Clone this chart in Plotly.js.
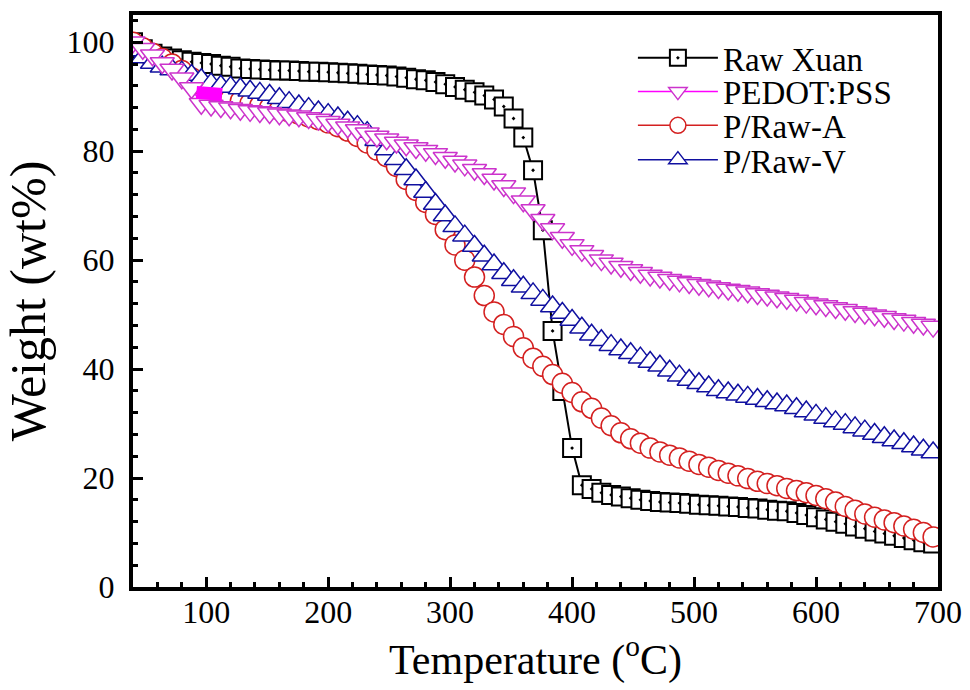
<!DOCTYPE html>
<html>
<head>
<meta charset="utf-8">
<script src="https://cdn.plot.ly/plotly-3.0.1.min.js"></script>
<style>html,body{margin:0;padding:0;background:#fff;}#chart{width:970px;height:690px;}</style>
</head>
<body>
<div id="chart"></div>
<script>
// Temperature grid (°C)
const temperature = [40,48,56,64,72,80,88,96,104,112,120,128,136,144,152,160,168,176,184,192,200,208,216,224,232,240,248,256,264,272,280,288,296,304,312,320,328,336,344,352,360,368,376,384,392,400,408,416,424,432,440,448,456,464,472,480,488,496,504,512,520,528,536,544,552,560,568,576,584,592,600,608,616,624,632,640,648,656,664,672,680,688,696];

const rawXuan = [100.0,98.7,97.9,97.4,97.0,96.7,96.4,96.2,96.0,95.7,95.5,95.2,95.1,95.0,94.9,94.8,94.8,94.7,94.6,94.6,94.5,94.4,94.3,94.2,94.1,94.0,93.9,93.7,93.5,93.2,93.0,92.7,92.3,91.8,91.3,90.8,90.2,89.5,88.2,86.0,82.5,76.5,65.5,47.0,36.0,25.5,18.7,18.0,17.3,16.9,16.6,16.3,16.0,15.8,15.6,15.5,15.4,15.3,15.1,15.0,14.9,14.8,14.7,14.5,14.4,14.2,14.0,13.9,13.6,13.2,12.8,12.4,12.0,11.6,11.1,10.7,10.2,9.8,9.4,9.0,8.6,8.2,8.0];

const pedotPss = [100.0,98.8,97.6,96.2,95.0,93.4,91.6,88.7,88.4,88.1,87.9,87.6,87.4,87.2,87.0,86.8,86.6,86.4,86.1,85.8,85.4,84.9,84.4,83.9,83.3,82.7,82.2,81.6,81.1,80.6,80.1,79.5,78.8,78.1,77.4,76.6,75.8,74.8,73.6,72.3,70.8,69.2,67.4,65.7,64.1,62.8,61.7,60.8,60.0,59.4,58.8,58.2,57.7,57.2,56.8,56.4,56.1,55.8,55.5,55.2,54.9,54.6,54.4,54.1,53.8,53.5,53.2,52.9,52.6,52.2,51.9,51.6,51.2,50.9,50.5,50.2,49.9,49.6,49.2,48.9,48.5,48.2,47.8];

// PEDOT:PSS cluster of overlapping points near 100 °C
const pedotHoldT = [92,113];
const pedotHoldW = [90.8,90.4];

const pRawA = [100.0,99.0,98.0,97.0,96.0,94.8,93.5,92.2,91.0,90.2,89.6,89.2,88.8,88.4,88.0,87.6,87.2,86.8,86.3,85.8,85.2,84.5,83.7,82.7,81.5,80.2,79.0,77.2,74.8,72.8,70.6,68.4,65.6,62.8,60.0,56.9,53.5,50.5,48.2,46.0,43.9,42.0,40.5,39.0,37.4,35.7,34.0,32.8,31.0,29.6,28.3,27.2,26.4,25.5,24.8,24.2,23.7,23.1,22.5,22.0,21.4,20.9,20.4,19.9,19.4,19.0,18.6,18.1,17.7,17.3,16.8,16.2,15.6,14.8,14.1,13.4,12.8,12.3,11.8,11.2,10.6,10.0,9.2];

const pRawV = [98.5,97.2,96.2,95.5,95.0,94.6,94.0,93.2,92.4,92.0,91.8,91.5,91.1,90.7,90.3,89.7,89.0,88.4,87.9,87.3,86.8,86.2,85.4,84.6,83.5,82.0,80.3,78.5,76.7,74.8,72.5,70.3,68.2,66.2,64.5,62.6,60.8,59.2,57.6,56.3,55.1,53.9,52.7,51.5,50.3,49.0,47.6,46.3,45.3,44.4,43.6,42.9,42.1,41.3,40.6,39.7,38.8,38.0,37.4,36.8,36.1,35.7,35.3,34.9,34.5,34.1,33.7,33.3,32.8,32.2,31.6,31.0,30.4,29.9,29.3,28.7,28.1,27.5,26.9,26.4,25.8,25.2,24.7];

const xTickVals = [100,200,300,400,500,600,700];
const yTickVals = [0,20,40,60,80,100];

const FONT = '"Liberation Serif", "Times New Roman", Times, serif';

const legendBox = (y) => ({x: 0.621, y: y, xanchor: 'left', yanchor: 'middle', bgcolor: 'rgba(0,0,0,0)',
  borderwidth: 0, font: {family: FONT, size: 33, color: '#000'}, itemwidth: 80});

const traces = [
  {x: temperature, y: rawXuan, name: 'Raw Xuan', mode: 'lines+markers', legend: 'legend',
   line: {color: '#000000', width: 2},
   marker: {symbol: 'square-dot', size: 18, color: '#ffffff', line: {color: '#000000', width: 2}}},
  {x: temperature, y: pRawA, name: 'P/Raw-A', mode: 'lines+markers', legend: 'legend3',
   line: {color: '#d42020', width: 1.5},
   marker: {symbol: 'circle', size: 20, color: '#ffffff', line: {color: '#d42020', width: 1.5}}},
  {x: temperature, y: pRawV, name: 'P/Raw-V', mode: 'lines+markers', legend: 'legend4',
   line: {color: '#1010a0', width: 1.5},
   marker: {symbol: 'triangle-up', size: 21, color: '#ffffff', line: {color: '#1010a0', width: 1.5}}},
  {x: temperature, y: pedotPss, name: 'PEDOT:PSS', mode: 'lines+markers', legend: 'legend2',
   line: {color: '#ff00ff', width: 1.5},
   marker: {symbol: 'triangle-down', size: 21, color: '#ffffff', line: {color: '#cc33cc', width: 1.5}}},
  {x: pedotHoldT, y: pedotHoldW, mode: 'lines', showlegend: false, hoverinfo: 'skip',
   line: {color: '#ff00ff', width: 13}}
];

const layout = {
  width: 970, height: 690,
  margin: {l: 133, r: 32, t: 15, b: 103},
  paper_bgcolor: '#ffffff', plot_bgcolor: '#ffffff',
  font: {family: FONT, color: '#000000', size: 32},
  showlegend: true,
  legend: legendBox(0.925),
  legend2: legendBox(0.866),
  legend3: legendBox(0.807),
  legend4: legendBox(0.747),
  xaxis: {
    range: [40, 700], tickvals: xTickVals, ticks: 'inside', ticklen: 10, tickwidth: 3, tickcolor: '#000',
    minor: {dtick: 20, ticks: 'inside', ticklen: 5, tickwidth: 3, tickcolor: '#000'},
    showline: true, linewidth: 4, linecolor: '#000', mirror: true, showgrid: false, zeroline: false,
    tickfont: {family: FONT, size: 32}, ticklabelstandoff: -6,
    title: {text: 'Temperature (<sup>o</sup>C)', font: {family: FONT, size: 42}, standoff: 10}
  },
  yaxis: {
    range: [0, 105], tickvals: yTickVals, ticks: 'inside', ticklen: 10, tickwidth: 3, tickcolor: '#000',
    minor: {dtick: 4, ticks: 'inside', ticklen: 5, tickwidth: 3, tickcolor: '#000'},
    showline: true, linewidth: 4, linecolor: '#000', mirror: true, showgrid: false, zeroline: false,
    tickfont: {family: FONT, size: 32}, ticklabelstandoff: 8,
    title: {text: 'Weight (wt%)', font: {family: FONT, size: 50}, standoff: 6}
  }
};

Plotly.newPlot('chart', traces, layout, {displayModeBar: false, staticPlot: true});
</script>
</body>
</html>
